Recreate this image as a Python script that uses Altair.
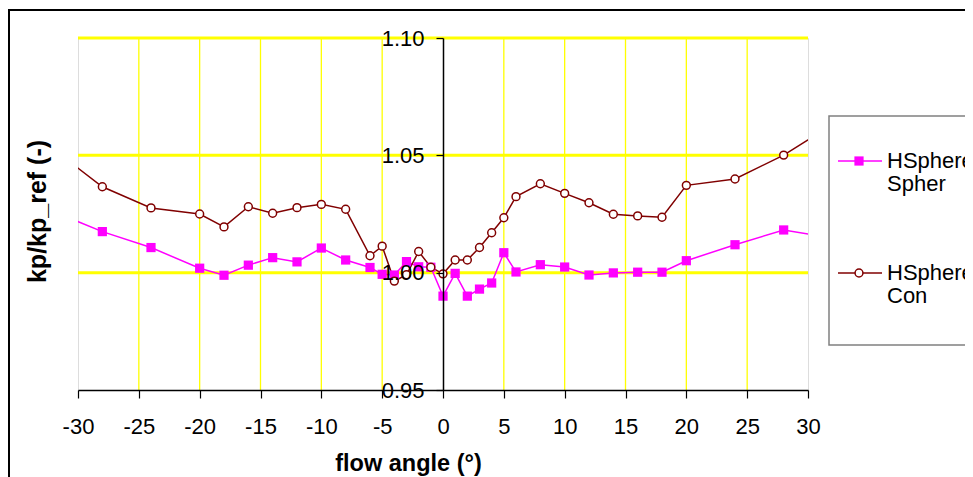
import altair as alt
import pandas as pd

# ---- data ----
angles = [-32, -28, -24, -20, -18, -16, -14, -12, -10, -8, -6, -5, -4, -3, -2, -1,
          0, 1, 2, 3, 4, 5, 6, 8, 10, 12, 14, 16, 18, 20, 24, 28, 32]
spher = [1.0260, 1.0175, 1.0107, 1.0019, 0.9989, 1.0032, 1.0064, 1.0046, 1.0105,
         1.0054, 1.0022, 0.9993, 0.9990, 1.0047, 1.0025, 1.0023, 0.9900, 0.9997,
         0.9900, 0.9930, 0.9956, 1.0085, 1.0003, 1.0034, 1.0024, 0.9990, 0.9999,
         1.0002, 1.0002, 1.0051, 1.0119, 1.0182, 1.0148]
con = [1.0525, 1.0366, 1.0276, 1.0250, 1.0195, 1.0281, 1.0253, 1.0277, 1.0291,
       1.0270, 1.0072, 1.0113, 0.9964, 0.9991, 1.0090, 1.0023, 0.9995, 1.0054,
       1.0054, 1.0107, 1.0170, 1.0234, 1.0324, 1.0379, 1.0338, 1.0298, 1.0249,
       1.0242, 1.0236, 1.0372, 1.0399, 1.0501, 1.0630]
series_names = ["HSphere_Spher", "HSphere_Con"]
legend_lines = [["HSphere_", "Spher"], ["HSphere_", "Con"]]
x_ticks = [-30, -25, -20, -15, -10, -5, 0, 5, 10, 15, 20, 25, 30]
y_ticks = [0.95, 1.00, 1.05, 1.10]
v_grid = [-25, -20, -15, -10, -5, 5, 10, 15, 20, 25]
h_grid = [1.00, 1.05, 1.10]

MAG = "#FF00FF"
BRN = "#800000"
YEL = "#FFFF00"
FONT = "Liberation Sans"

rows = []
for a, s, c in zip(angles, spher, con):
    rows.append({"series": series_names[0], "angle": a, "kp": s})
    rows.append({"series": series_names[1], "angle": a, "kp": c})
df = pd.DataFrame(rows)

x_scale = alt.Scale(domain=[-30, 30], nice=False, zero=False)
y_scale = alt.Scale(domain=[0.95, 1.10], nice=False, zero=False)

x_axis = alt.Axis(values=x_ticks, title="flow angle (°)", grid=False,
                  labelExpr="'' + datum.value",
                  domainColor="black", domainWidth=1.5, tickColor="black",
                  tickSize=8, tickWidth=1.2, labelFontSize=22, labelPadding=18,
                  labelFlush=False, labelOverlap=False, labelColor="black",
                  labelFont=FONT, titleFont=FONT, titleFontSize=23.5,
                  titleFontWeight="bold", titleColor="black", titleY=73,
                  titleX=330, titleAlign="center",
                  titleBaseline="middle", zindex=1)
y_axis = alt.Axis(values=y_ticks, format=".2f", title="kp/kp_ref (-)", grid=False,
                  offset=-365, domainColor="black", domainWidth=1.5,
                  tickColor="black", tickSize=7, tickWidth=1.2, labelFontSize=22,
                  labelPadding=12, labelColor="black", labelFont=FONT,
                  labelOverlap=False, titleFont=FONT, titleFontSize=25,
                  titleFontWeight="bold", titleColor="black", titleAngle=270,
                  titleX=-406, titleY=173, titleAlign="center",
                  titleBaseline="middle", zindex=1)


def X():
    return alt.X("angle:Q", scale=x_scale, axis=x_axis)


def Y():
    return alt.Y("kp:Q", scale=y_scale, axis=y_axis)


vgrid = alt.Chart(pd.DataFrame({"angle": v_grid})).mark_rule(
    color=YEL, strokeWidth=1.3).encode(x=X())
hgrid = alt.Chart(pd.DataFrame({"kp": h_grid})).mark_rule(
    color=YEL, strokeWidth=3).encode(y=Y())

lines = alt.Chart(df).mark_line(strokeWidth=1.5, clip=True).encode(
    x=X(), y=Y(),
    color=alt.Color("series:N", scale=alt.Scale(domain=series_names, range=[MAG, BRN]),
                    legend=None),
)
SQ_STYLE = dict(shape="square", filled=True, size=85, color=MAG, opacity=1)
CI_STYLE = dict(shape="circle", filled=False, fill="white", stroke=BRN,
                strokeWidth=1.5, size=62, opacity=1)
squares = alt.Chart(df).transform_filter(
    alt.datum.series == series_names[0]).mark_point(clip=True, **SQ_STYLE).encode(x=X(), y=Y())
circles = alt.Chart(df).transform_filter(
    alt.datum.series == series_names[1]).mark_point(clip=True, **CI_STYLE).encode(x=X(), y=Y())

# ---- legend (drawn as decoration outside the plot area) ----
one = pd.DataFrame({"k": [0]})
legend_parts = [
    alt.Chart(one).mark_rect(fill="white", stroke="#808080", strokeWidth=1.5).encode(
        x=alt.value(751), x2=alt.value(920), y=alt.value(78), y2=alt.value(307)),
]
entry_y = [123, 235]
for i, (lbl, col, style) in enumerate(zip(legend_lines, [MAG, BRN], [SQ_STYLE, CI_STYLE])):
    yy = entry_y[i]
    legend_parts.append(alt.Chart(one).mark_rule(color=col, strokeWidth=1.5).encode(
        x=alt.value(760), x2=alt.value(804), y=alt.value(yy)))
    legend_parts.append(alt.Chart(one).mark_point(**style).encode(
        x=alt.value(781), y=alt.value(yy)))
    for j, t in enumerate(lbl):
        legend_parts.append(alt.Chart(one).mark_text(
            text=t, align="left", baseline="middle", font=FONT, fontSize=22,
            color="black").encode(x=alt.value(809), y=alt.value(yy + 22.5 * j)))

frame_top = alt.Chart(one).mark_rule(color="black", strokeWidth=2).encode(
    x=alt.value(-70), x2=alt.value(890), y=alt.value(-28))
frame_left = alt.Chart(one).mark_rule(color="black", strokeWidth=2).encode(
    x=alt.value(-69), y=alt.value(-28), y2=alt.value(439))

chart = alt.layer(
    vgrid, hgrid, lines, squares, circles, *legend_parts, frame_top, frame_left
).properties(
    width=730, height=352,
    padding={"left": 70, "top": 30, "right": 157, "bottom": 87},
    autosize=alt.AutoSizeParams(type="none"),
    background="white",
).configure_view(stroke="#808080", strokeWidth=2).configure(font=FONT)

chart.save("out.html", embed_options={"renderer": "svg", "actions": False})
